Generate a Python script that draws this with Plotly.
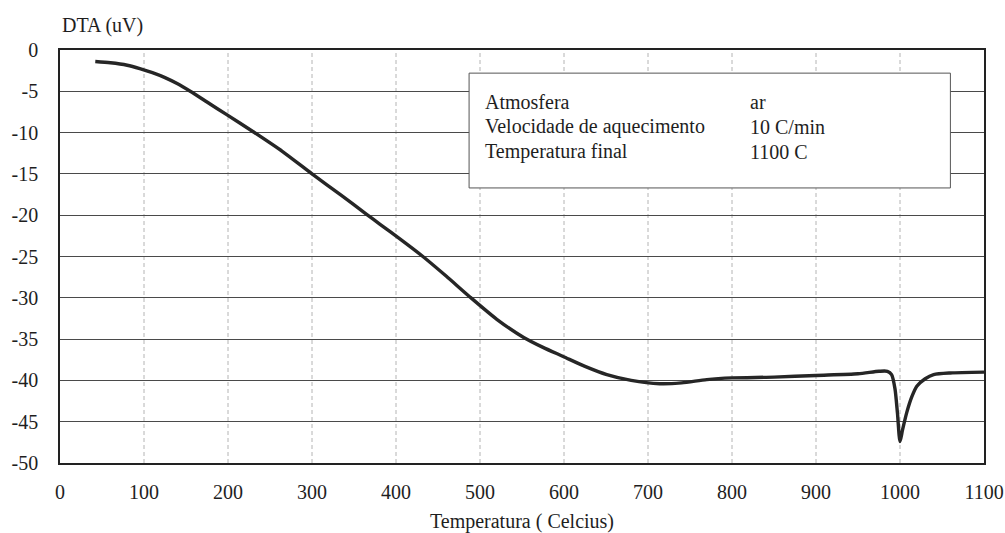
import plotly.graph_objects as go

temperature = [42, 60, 80, 95, 110, 125, 140, 155, 175, 198, 230, 265, 300, 335, 365, 381, 405, 432, 460, 488, 520, 552, 575, 599, 625, 651, 680, 714, 740, 770, 800, 850, 900, 950, 975, 985, 990, 994, 997, 1000, 1003, 1008, 1014, 1020, 1030, 1040, 1060, 1100]
dta = [-1.4, -1.55, -1.85, -2.25, -2.75, -3.35, -4.1, -5.0, -6.3, -7.8, -9.9, -12.3, -15.0, -17.6, -19.9, -21.1, -22.9, -25.0, -27.4, -29.9, -32.6, -34.8, -36.0, -37.1, -38.3, -39.3, -40.0, -40.4, -40.3, -39.9, -39.7, -39.6, -39.4, -39.2, -38.9, -38.9, -39.3, -41.0, -44.0, -47.4, -46.0, -43.9, -42.0, -40.7, -39.8, -39.3, -39.1, -39.0]

x_ticks = list(range(0, 1101, 100))
y_ticks = list(range(0, -51, -5))
y_tick_text = [str(v) for v in y_ticks]

info_labels = ["Atmosfera", "Velocidade de aquecimento", "Temperatura final"]
info_values = ["ar", "10 C/min", "1100 C"]

FONT = "Liberation Serif, Times New Roman, serif"
TXT = "#1e1e1e"

fig = go.Figure()

# vertical dashed gridlines
for xv in x_ticks[1:-1]:
    fig.add_shape(type="line", xref="x", yref="paper", x0=xv, x1=xv, y0=0, y1=1,
                  line=dict(color="#b4b4b4", width=1, dash="4px,3px"), layer="below")

fig.add_trace(go.Scatter(x=temperature, y=dta, mode="lines",
                         line=dict(color="#262626", width=3.4, shape="spline", smoothing=0.7),
                         showlegend=False, hoverinfo="skip"))

# info box
fig.add_shape(type="rect", xref="x", yref="y", x0=487, x1=1060, y0=-2.8, y1=-16.7,
              line=dict(color="#555", width=1), fillcolor="white", layer="above")
row_y = [-6.3, -9.3, -12.3]
for lab, val, yy in zip(info_labels, info_values, row_y):
    fig.add_annotation(x=503, y=yy, xref="x", yref="y", text=lab, showarrow=False,
                       xanchor="left", yanchor="middle", font=dict(family=FONT, size=20, color=TXT))
    fig.add_annotation(x=819, y=yy, xref="x", yref="y", text=val, showarrow=False,
                       xanchor="left", yanchor="middle", font=dict(family=FONT, size=20, color=TXT))

fig.add_annotation(x=0, y=1.0, xref="paper", yref="paper", yshift=25, text="DTA (uV)",
                   showarrow=False, xanchor="left", yanchor="middle",
                   font=dict(family=FONT, size=20, color=TXT))

fig.update_layout(
    width=1005, height=533,
    margin=dict(l=60, r=21, t=50, b=70),
    paper_bgcolor="white", plot_bgcolor="white",
    font=dict(family=FONT, size=20, color=TXT),
    xaxis=dict(range=[0, 1100], tickvals=x_ticks, showgrid=False, zeroline=False,
               showline=True, linecolor="#222", linewidth=1.5, mirror=True, ticks="",
               ticklabelstandoff=10, automargin=False,
               title=dict(text="Temperatura ( Celcius)", font=dict(family=FONT, size=20, color=TXT), standoff=19)),
    yaxis=dict(range=[-50, 0], tickvals=y_ticks, ticktext=y_tick_text, showgrid=True,
               gridcolor="#4a4a4a", gridwidth=1, automargin=False,
               zeroline=False, showline=True, linecolor="#222", linewidth=1.5, mirror=True,
               ticks="", ticklabelstandoff=16),
)

fig.write_html("out.html")
